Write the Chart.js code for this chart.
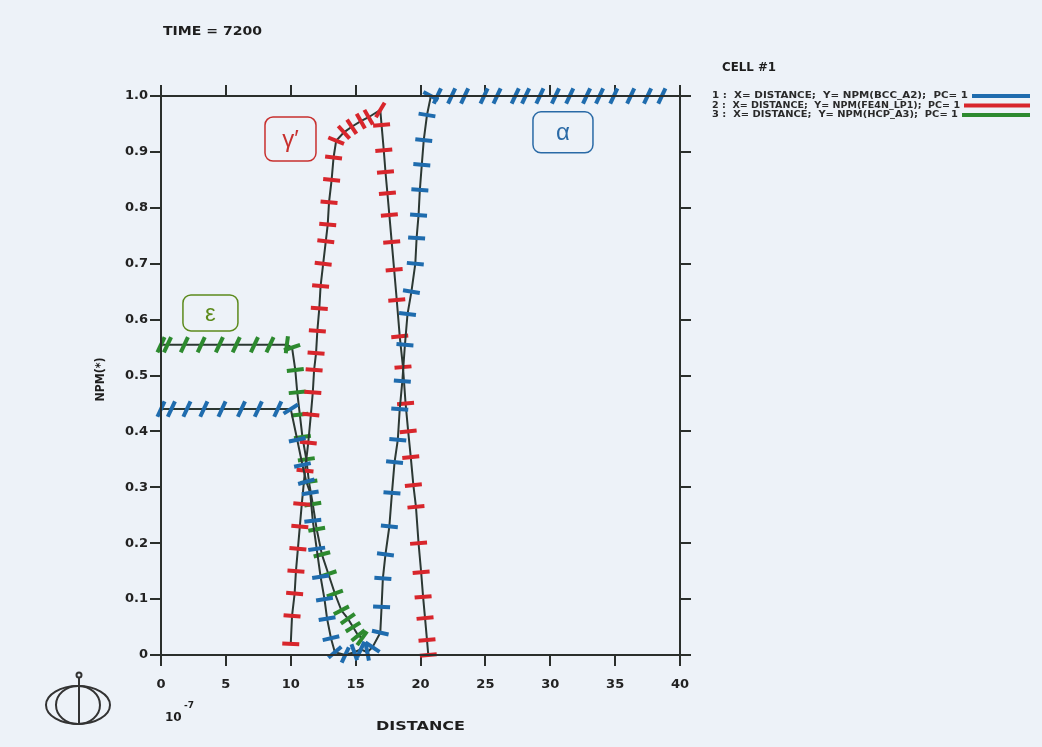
<!DOCTYPE html>
<html>
<head>
<meta charset="utf-8">
<script src="https://cdn.jsdelivr.net/npm/chart.js@4.4.1/dist/chart.umd.min.js"></script>
<style>
    html, body { margin: 0; padding: 0; background: #edf2f8; }
    #wrap { width: 1042px; height: 747px; position: relative; }
</style>
</head>
<body>
<div id="wrap"><canvas id="npmChart" width="1042" height="747"></canvas></div>
<script>
// values (distance in units of 1e-7)
const xTicks = [0, 5, 10, 15, 20, 25, 30, 35, 40];
const yTicks = [0, 0.1, 0.2, 0.3, 0.4, 0.5, 0.6, 0.7, 0.8, 0.9, 1.0];

// BCC_A2 (alpha)
const bccX = [0, 0.8, 2.0, 3.3, 4.7, 6.2, 7.5, 9.0, 10.0, 10.5, 10.9, 11.2, 11.5, 11.7, 12.0, 12.3, 12.6, 12.8, 13.1, 13.4,
    14.2, 14.9, 15.4, 15.9, 16.3, 16.9, 17.0, 17.1, 17.3, 17.6, 17.8, 18.0, 18.25, 18.4, 18.6, 18.8, 19.0, 19.3, 19.6, 19.7,
    19.85, 19.95, 20.1, 20.25, 20.5, 20.8, 21.3, 22.4, 23.4, 24.9, 25.9, 27.3, 28.1, 29.2, 30.4, 31.5, 32.8, 33.8, 34.9,
    36.2, 37.5, 38.6];
const bccY = [0.44, 0.44, 0.44, 0.44, 0.44, 0.44, 0.44, 0.44, 0.44, 0.385, 0.34, 0.31, 0.29, 0.24, 0.19, 0.14, 0.10, 0.065, 0.03, 0.005,
    0.0, 0.005, 0.01, 0.005, 0.014, 0.04, 0.086, 0.137, 0.18, 0.23, 0.29, 0.345, 0.385, 0.44, 0.49, 0.555, 0.61, 0.65, 0.70, 0.746,
    0.787, 0.832, 0.877, 0.921, 0.966, 1.0, 1.0, 1.0, 1.0, 1.0, 1.0, 1.0, 1.0, 1.0, 1.0, 1.0, 1.0, 1.0, 1.0,
    1.0, 1.0, 1.0];

// FE4N_LP1 (gamma prime)
const fe4nX = [10.0, 10.1, 10.3, 10.4, 10.55, 10.7, 10.85, 11.1, 11.35, 11.55, 11.7, 11.8, 11.95, 12.05, 12.2, 12.3, 12.5,
    12.7, 12.85, 12.95, 13.15, 13.3, 13.5, 14.1, 14.7, 15.4, 16.0, 16.9, 17.0, 17.17, 17.3, 17.45, 17.6, 17.78, 17.97,
    18.17, 18.4, 18.65, 18.85, 19.05, 19.25, 19.45, 19.65, 19.85, 20.05, 20.2, 20.35, 20.5, 20.6];
const fe4nY = [0.02, 0.07, 0.11, 0.15, 0.19, 0.23, 0.27, 0.33, 0.38, 0.43, 0.47, 0.51, 0.54, 0.58, 0.62, 0.66, 0.70,
    0.74, 0.77, 0.81, 0.85, 0.89, 0.92, 0.935, 0.945, 0.955, 0.962, 0.975, 0.948, 0.903, 0.864, 0.826, 0.787, 0.739, 0.689,
    0.635, 0.57, 0.515, 0.45, 0.40, 0.354, 0.304, 0.265, 0.20, 0.148, 0.104, 0.066, 0.027, 0.0];

// HCP_A3 (epsilon)
const hcpX = [0, 0.5, 1.8, 3.1, 4.5, 5.8, 7.2, 8.4, 9.7, 10.1, 10.35, 10.5, 10.7, 10.9, 11.2, 11.4, 11.7, 12.0, 12.4, 12.9,
    13.4, 13.9, 14.4, 14.8, 15.2, 15.5];
const hcpY = [0.555, 0.555, 0.555, 0.555, 0.555, 0.555, 0.555, 0.555, 0.555, 0.55, 0.51, 0.47, 0.43, 0.39, 0.35, 0.31,
    0.27, 0.225, 0.18, 0.145, 0.11, 0.08, 0.065, 0.05, 0.035, 0.03];

const seriesNames = ['BCC_A2', 'FE4N_LP1', 'HCP_A3'];
const seriesColors = ['#1f6cae', '#d8262c', '#2d8a2f'];

// phase labels placed in data coordinates
const phaseText = ['γ′', 'α', 'ε'];
const phaseX = [9.98, 30.98, 3.81];
const phaseY = [0.923, 0.935, 0.612];
const phaseColor = ['#c8302e', '#2a6aa6', '#5c8a1c'];
const phaseBox = [[51, 44], [60, 41], [55, 36]];

const toPoints = (xs, ys) => xs.map((x, i) => ({ x: x, y: ys[i] }));

const perpRotation = ctx => {
    const data = ctx.dataset.data;
    const i = ctx.dataIndex;
    const a = data[Math.max(i - 1, 0)];
    const b = data[Math.min(i + 1, data.length - 1)];
    const xs = ctx.chart.scales.x, ys = ctx.chart.scales.y;
    const dx = xs.getPixelForValue(b.x) - xs.getPixelForValue(a.x);
    const dy = ys.getPixelForValue(b.y) - ys.getPixelForValue(a.y);
    let deg = Math.atan2(dy, dx) * 180 / Math.PI + 90;
    // the flat runs carry slanted dashes in the original
    if (Math.abs(dy) < 1) deg += 25;
    return deg;
};

const makeSet = (name, pts, color) => ({
    label: name,
    data: pts,
    showLine: true,
    borderColor: '#2c3833',
    borderWidth: 2,
    tension: 0,
    clip: false,
    pointStyle: 'line',
    pointRadius: 8.5,
    pointBorderWidth: 4,
    pointBorderColor: color,
    pointBackgroundColor: color,
    pointRotation: perpRotation
});

const FONT = "'DejaVu Sans', 'Liberation Sans', Arial, sans-serif";
const FONT2 = "'Liberation Sans', Arial, sans-serif";

// draw text squeezed or stretched to a given width
const fitText = (c, txt, x, y, w) => {
    const m = c.measureText(txt).width;
    c.save();
    c.translate(x, y);
    c.scale(w / m, 1);
    c.fillText(txt, 0, 0);
    c.restore();
};

const decorations = {
    id: 'decorations',
    beforeDraw(chart) {
        const c = chart.ctx;
        c.save();
        c.fillStyle = '#edf2f8';
        c.fillRect(0, 0, chart.width, chart.height);
        c.restore();
    },
    afterDraw(chart) {
        const c = chart.ctx;
        const a = chart.chartArea;
        const xs = chart.scales.x, ys = chart.scales.y;
        c.save();

        // frame, with the lines running a little past the corners
        c.strokeStyle = '#2b2f2c';
        c.lineWidth = 2;
        const ext = 11;
        c.beginPath();
        c.moveTo(a.left - ext, a.top); c.lineTo(a.right + ext, a.top);
        c.moveTo(a.left - ext, a.bottom); c.lineTo(a.right + ext, a.bottom);
        c.moveTo(a.left, a.top - ext); c.lineTo(a.left, a.bottom + ext);
        c.moveTo(a.right, a.top - ext); c.lineTo(a.right, a.bottom + ext);
        c.stroke();

        // phase label boxes
        c.lineWidth = 1.5;
        phaseText.forEach((t, i) => {
            const cx = xs.getPixelForValue(phaseX[i]);
            const cy = ys.getPixelForValue(phaseY[i]);
            const w = phaseBox[i][0], h = phaseBox[i][1];
            c.strokeStyle = phaseColor[i];
            c.beginPath();
            c.roundRect(cx - w / 2, cy - h / 2, w, h, 8);
            c.stroke();
            c.fillStyle = phaseColor[i];
            c.font = "24px " + FONT2;
            c.textAlign = 'center';
            c.textBaseline = 'middle';
            c.fillText(t, cx, cy + 1);
        });

        // titles
        c.fillStyle = '#1e1e1e';
        c.textAlign = 'left';
        c.textBaseline = 'middle';
        c.font = "bold 13px " + FONT;
        fitText(c, 'TIME = 7200', 163, 32, 99);
        fitText(c, 'DISTANCE', 376, 727, 89);

        c.save();
        c.translate(101, (a.top + a.bottom) / 2 + 4);
        c.rotate(-Math.PI / 2);
        c.font = "bold 13px " + FONT;
        fitText(c, 'NPM(*)', -22, 0, 44);
        c.restore();

        c.font = "bold 12px " + FONT;
        c.fillText('10', 165, 718);
        c.font = "bold 9px " + FONT;
        c.fillText('-7', 184, 706);

        // legend block
        c.font = "bold 13px " + FONT;
        fitText(c, 'CELL #1', 722, 68, 54);
        c.font = "bold 8.5px " + FONT;
        const legY = [96, 105.5, 115];
        const legW = [256, 248, 246];
        seriesNames.forEach((n, i) => {
            const txt = (i + 1) + ' :  X= DISTANCE;  Y= NPM(' + n + ');  PC= 1';
            c.fillStyle = '#2a2a2a';
            fitText(c, txt, 712, legY[i], legW[i]);
            c.strokeStyle = seriesColors[i];
            c.lineWidth = 4;
            c.beginPath();
            c.moveTo(712 + legW[i] + 4, legY[i]);
            c.lineTo(1030, legY[i]);
            c.stroke();
        });

        // logo in the lower left corner
        c.strokeStyle = '#333';
        c.lineWidth = 2;
        c.beginPath();
        c.ellipse(78, 705, 32, 19, 0, 0, Math.PI * 2);
        c.stroke();
        c.beginPath();
        c.ellipse(78, 705, 22, 19, 0, 0, Math.PI * 2);
        c.stroke();
        c.beginPath();
        c.moveTo(79, 678); c.lineTo(79, 724);
        c.stroke();
        c.beginPath();
        c.arc(79, 675, 2.5, 0, Math.PI * 2);
        c.stroke();

        c.restore();
    }
};

const tickGrid = {
    drawOnChartArea: false,
    drawTicks: true,
    tickLength: 11,
    color: '#2b2f2c',
    lineWidth: 2
};

document.addEventListener('DOMContentLoaded', function () {
    new Chart(document.getElementById('npmChart'), {
        type: 'scatter',
        data: {
            datasets: [
                makeSet(seriesNames[0], toPoints(bccX, bccY), seriesColors[0]),
                makeSet(seriesNames[1], toPoints(fe4nX, fe4nY), seriesColors[1]),
                makeSet(seriesNames[2], toPoints(hcpX, hcpY), seriesColors[2])
            ]
        },
        options: {
            responsive: false,
            animation: false,
            events: [],
            layout: { padding: 0 },
            plugins: {
                legend: { display: false },
                tooltip: { enabled: false }
            },
            scales: {
                x: {
                    type: 'linear',
                    position: 'bottom',
                    min: xTicks[0],
                    max: xTicks[xTicks.length - 1],
                    afterBuildTicks: s => { s.ticks = xTicks.map(v => ({ value: v })); },
                    afterFit: s => { s.height = 92; },
                    border: { display: false },
                    grid: tickGrid,
                    ticks: {
                        padding: 11,
                        color: '#222',
                        font: { family: FONT, size: 13, weight: 'bold' }
                    }
                },
                x2: {
                    type: 'linear',
                    position: 'top',
                    min: xTicks[0],
                    max: xTicks[xTicks.length - 1],
                    afterBuildTicks: s => { s.ticks = xTicks.map(v => ({ value: v })); },
                    afterFit: s => { s.height = 96; },
                    border: { display: false },
                    grid: tickGrid,
                    ticks: { display: false }
                },
                y: {
                    type: 'linear',
                    position: 'left',
                    min: 0,
                    max: 1,
                    afterBuildTicks: s => { s.ticks = yTicks.map(v => ({ value: v })); },
                    afterFit: s => { s.width = 161; },
                    border: { display: false },
                    grid: tickGrid,
                    ticks: {
                        padding: 2,
                        color: '#222',
                        font: { family: FONT, size: 13, weight: 'bold' },
                        callback: v => v === 0 ? '0' : v.toFixed(1)
                    }
                },
                y2: {
                    type: 'linear',
                    position: 'right',
                    min: 0,
                    max: 1,
                    afterBuildTicks: s => { s.ticks = yTicks.map(v => ({ value: v })); },
                    afterFit: s => { s.width = 362; },
                    border: { display: false },
                    grid: tickGrid,
                    ticks: { display: false }
                }
            }
        },
        plugins: [decorations]
    });
});
</script>
</body>
</html>
